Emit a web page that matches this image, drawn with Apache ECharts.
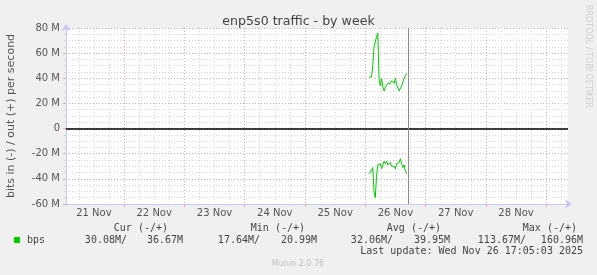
<!DOCTYPE html>
<html><head><meta charset="utf-8">
<script src="https://cdn.jsdelivr.net/npm/echarts@6/dist/echarts.min.js"></script>
<style>html,body{margin:0;padding:0;background:#f0f0f0}#c{width:597px;height:275px}</style>
</head><body><div id="c"></div>
<script>
// hours since 21 Nov 00:00
const hours = [121.5,122,122.5,123,123.5,124,124.5,125,125.5,126,126.5,127,127.5,128,128.5,129,129.5,130,130.5,131,131.5,132,132.5,133,133.5,134,134.5,135,135.5,136,136.5];
// out (+) in M bits/s
const outBps = [41,41,41,50,65,66,73,76,40,34,40,33,30,33,34,36,37,36,38,37,36,40,35,36,30,30,34,37,40,42,44];
// in (-) in M bits/s (magnitude)
const inBps = [36,36,33,31,50,55,38,29,30,28,32,32,26,28,26,29,28,27,30,29,30,32,28,29,27,24,28,31,29,34,36];
const dayLabels = ['21 Nov','22 Nov','23 Nov','24 Nov','25 Nov','26 Nov','27 Nov','28 Nov'];
const dayLabelHours = [12,36,60,84,108,132,156,180];
const midnightHours = [24,48,72,96,120,144,168,192];
const yTickLabels = ['-60 M','-40 M','-20 M','0','20 M','40 M','60 M','80 M'];
const yTickValues = [-60,-40,-20,0,20,40,60,80];
const nowHour = 137.08;
const xMin = 0.9, xMax = 200.7;
const legendHeaders = ['Cur (-/+)','Min (-/+)','Avg (-/+)','Max (-/+)'];
const legendValues = ['30.08M/','36.67M','17.64M/','20.99M','32.06M/','39.95M','113.67M/','160.96M'];
const lastUpdate = 'Last update: Wed Nov 26 17:05:03 2025';
const seriesName = 'bps';

const minorHours = [];
for (let h = 6; h < xMax; h += 6) minorHours.push(h);

const MAJ = '#eaa2a2', MIN = '#d6d6d6', AX = '#c8c8f4';
const mono = '10px "DejaVu Sans Mono"';
const headerX = [168, 305, 441, 577];
const valueX = [127, 183, 260, 317, 393, 450, 526, 583];

const graphics = [
  {type:'rect', shape:{x:14,y:237,width:6,height:6}, style:{fill:'#00cc00'}},
  {type:'text', style:{text:seriesName, x:27, y:240, textVerticalAlign:'middle', font:mono, fill:'#444'}},
  {type:'text', style:{text:lastUpdate, x:583, y:251.5, textAlign:'right', textVerticalAlign:'middle', font:mono, fill:'#444'}},
  {type:'text', style:{text:'Munin 2.0.76', x:298, y:264, textAlign:'center', textVerticalAlign:'middle', font:'8px "DejaVu Sans"', fill:'#c0c0c0'}},
  {type:'text', rotation:-Math.PI/2, x:588, y:5, style:{text:'RRDTOOL / TOBI OETIKER', x:0, y:0, textAlign:'left', textVerticalAlign:'middle', font:'8px "DejaVu Sans"', fill:'#cfcfcf'}}
];
legendHeaders.forEach((t,i)=>graphics.push({type:'text', style:{text:t, x:headerX[i], y:228, textAlign:'right', textVerticalAlign:'middle', font:mono, fill:'#444'}}));
legendValues.forEach((t,i)=>graphics.push({type:'text', style:{text:t, x:valueX[i], y:240, textAlign:'right', textVerticalAlign:'middle', font:mono, fill:'#444'}}));

const chart = echarts.init(document.getElementById('c'), null, {renderer:'canvas'});
chart.setOption({
  backgroundColor:'#f0f0f0',
  animation:false,
  title:{text:'enp5s0 traffic - by week', left:'center', top:10, textStyle:{fontFamily:'DejaVu Sans', fontSize:12.6, fontWeight:'normal', color:'#444'}},
  grid:{left:66, right:29, top:28, bottom:71, show:true, backgroundColor:'#ffffff', borderWidth:0, containLabel:false, outerBoundsMode:'none'},
  xAxis:[
    {type:'value', min:xMin, max:xMax, position:'bottom',
     axisLine:{show:false}, axisLabel:{show:false},
     axisTick:{show:true, customValues:minorHours, length:2, lineStyle:{color:MIN}},
     splitLine:{show:true, lineStyle:{color:MIN, type:[1,2], width:1}}},
    {type:'value', min:xMin, max:xMax, position:'bottom',
     axisLine:{show:true, onZero:false, symbol:['none','arrow'], symbolSize:[7,7], symbolOffset:[0,4], lineStyle:{color:AX, width:1}},
     axisTick:{show:true, customValues:midnightHours, length:3, lineStyle:{color:MAJ}},
     axisLabel:{show:true, customValues:dayLabelHours, margin:4, fontFamily:'DejaVu Sans', fontSize:10, color:'#555',
       formatter:v=>dayLabels[dayLabelHours.indexOf(Math.round(v))] || ''},
     splitLine:{show:true, lineStyle:{color:MAJ, type:[1,2], width:1}}}
  ],
  yAxis:[
    {type:'value', min:-60, max:80, interval:5, position:'left',
     axisLine:{show:false}, axisLabel:{show:false},
     axisTick:{show:true, length:2, lineStyle:{color:MIN}},
     splitLine:{show:true, lineStyle:{color:MIN, type:[1,2], width:1}}},
    {type:'value', min:-60, max:80, interval:20, position:'left',
     name:'bits in (-) / out (+) per second', nameLocation:'middle', nameGap:49, nameRotate:90,
     nameTextStyle:{fontFamily:'DejaVu Sans', fontSize:11, color:'#555'},
     axisLine:{show:true, onZero:false, symbol:['none','arrow'], symbolSize:[7,7], symbolOffset:[0,4], lineStyle:{color:AX, width:1}},
     axisTick:{show:true, length:3, lineStyle:{color:MAJ}},
     axisLabel:{margin:6, fontFamily:'DejaVu Sans', fontSize:10, color:'#555',
       formatter:v=>yTickLabels[yTickValues.indexOf(v)]},
     splitLine:{show:true, lineStyle:{color:MAJ, type:[1,2], width:1}}}
  ],
  series:[
    {type:'line', name:'out', xAxisIndex:1, yAxisIndex:1, showSymbol:false, silent:true,
     lineStyle:{color:'#00cc00', width:1}, data:hours.map((h,i)=>[h,outBps[i]]),
     markLine:{silent:true, symbol:'none', label:{show:false}, animation:false,
       data:[{yAxis:0, lineStyle:{color:'#000', width:1.5, type:'solid'}},
             {xAxis:nowHour, lineStyle:{color:'#8a8a8a', width:1, type:'solid'}}]}},
    {type:'line', name:'in', xAxisIndex:1, yAxisIndex:1, showSymbol:false, silent:true,
     lineStyle:{color:'#00cc00', width:1}, data:hours.map((h,i)=>[h,-inBps[i]])}
  ],
  graphic:graphics
});
</script></body></html>
